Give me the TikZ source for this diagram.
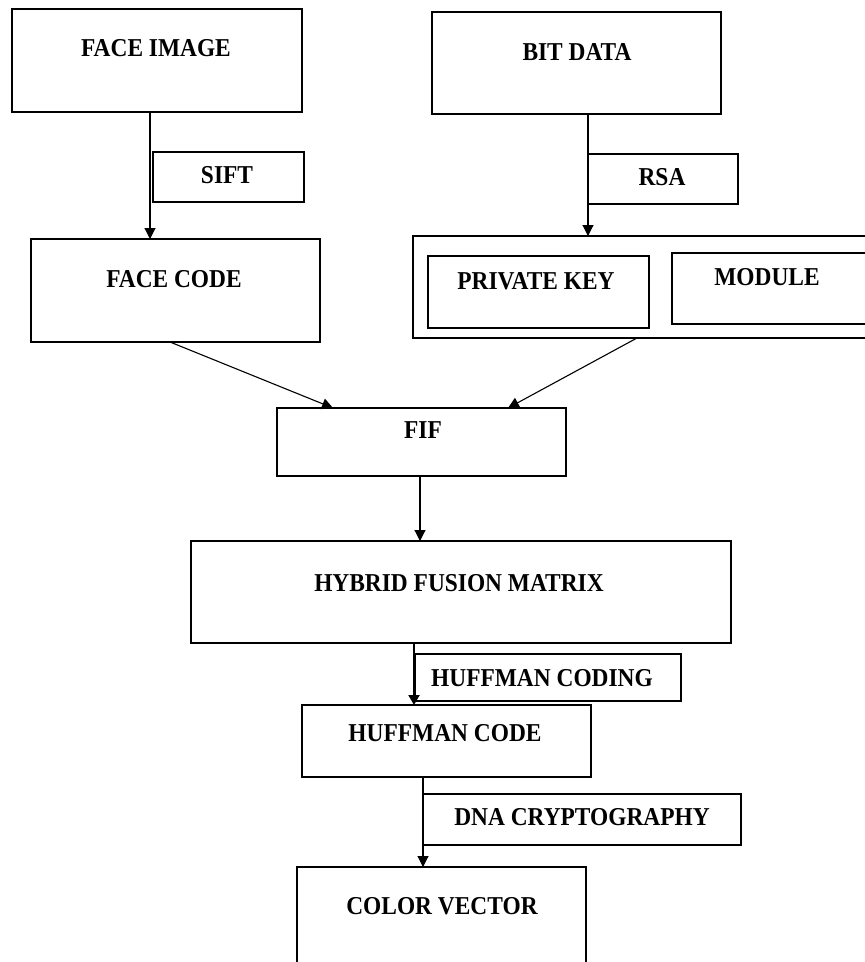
\documentclass[tikz,border=0pt]{standalone}
\usepackage{fontspec}
\usepackage{graphicx}
\setmainfont{Liberation Serif}
\usetikzlibrary{arrows.meta}
\newcommand\tallt[1]{\scalebox{1}[1.1]{#1}}
\tikzset{
  box/.style={draw=black, line width=1.4pt, anchor=north west, inner sep=0pt, outer sep=0pt},
  lbl/.style={font=\fontsize{23.4}{26}\selectfont\bfseries, inner sep=0pt, anchor=center},
  arr/.style={draw=black, line width=1.1pt, -{Triangle[width=11pt,length=11pt]}},
  arrthick/.style={draw=black, line width=2pt, -{Triangle[width=11pt,length=10pt]}}
}
\begin{document}
\begin{tikzpicture}[x=1pt,y=-1pt]
\useasboundingbox (0,0) rectangle (865,962);
\clip (0,0) rectangle (865,962);
\fill[white] (0,0) rectangle (865,962);
% boxes
\node[box, minimum width=290, minimum height=103] (fi) at (12,9) {};
\node[lbl] (fit) at (156,48) {\tallt{FACE IMAGE}};
\node[box, minimum width=151, minimum height=50] (sift) at (153,152) {};
\node[lbl] (siftt) at (227,175) {\tallt{SIFT}};
\node[box, minimum width=289, minimum height=103] (fc) at (31,239) {};
\node[lbl] (fct) at (174,279) {\tallt{FACE CODE}};
\node[box, minimum width=289, minimum height=102] (bd) at (432,12) {};
\node[lbl] (bdt) at (577,52) {\tallt{BIT DATA}};
\node[box, minimum width=150, minimum height=50] (rsa) at (588,154) {};
\node[lbl] (rsat) at (662,177) {\tallt{RSA}};
\node[box, minimum width=470, minimum height=102] (outer) at (413,236) {};
\node[box, minimum width=221, minimum height=72] (pk) at (428,256) {};
\node[lbl] (pkt) at (536,281) {\tallt{PRIVATE KEY}};
\node[box, minimum width=210, minimum height=71] (mod) at (672,253) {};
\node[lbl] (modt) at (767,277) {\tallt{MODULE}};
\node[box, minimum width=289, minimum height=68] (fif) at (277,408) {};
\node[lbl] (fift) at (423,430) {\tallt{FIF}};
\node[box, minimum width=540, minimum height=102] (hfm) at (191,541) {};
\node[lbl] (hfmt) at (459,583) {\tallt{HYBRID FUSION MATRIX}};
\node[box, minimum width=266, minimum height=47] (hcg) at (415,654) {};
\node[lbl] (hcgt) at (542,678) {\tallt{HUFFMAN CODING}};
\node[box, minimum width=289, minimum height=72] (hc) at (302,705) {};
\node[lbl] (hct) at (445,733) {\tallt{HUFFMAN CODE}};
\node[box, minimum width=318, minimum height=51] (dna) at (423,794) {};
\node[lbl] (dnat) at (582,817) {\tallt{DNA CRYPTOGRAPHY}};
\node[box, minimum width=289, minimum height=120] (cv) at (297,867) {};
\node[lbl] (cvt) at (442,906) {\tallt{COLOR VECTOR}};
% connectors
\draw[arr] (150,0 |- fi.south) -- (150,0 |- fc.north);
\draw[arr] (588,0 |- bd.south) -- (588,0 |- outer.north);
\draw[arr] (170,0 |- fc.south) -- (333,0 |- fif.north);
\draw[arr] (637,0 |- outer.south) -- (508,0 |- fif.north);
\draw[arr] (420,0 |- fif.south) -- (420,0 |- hfm.north);
\draw[arrthick] (414,0 |- hfm.south) -- (414,0 |- hc.north);
\draw[arr] (423,0 |- hc.south) -- (423,0 |- cv.north);
\end{tikzpicture}
\end{document}
